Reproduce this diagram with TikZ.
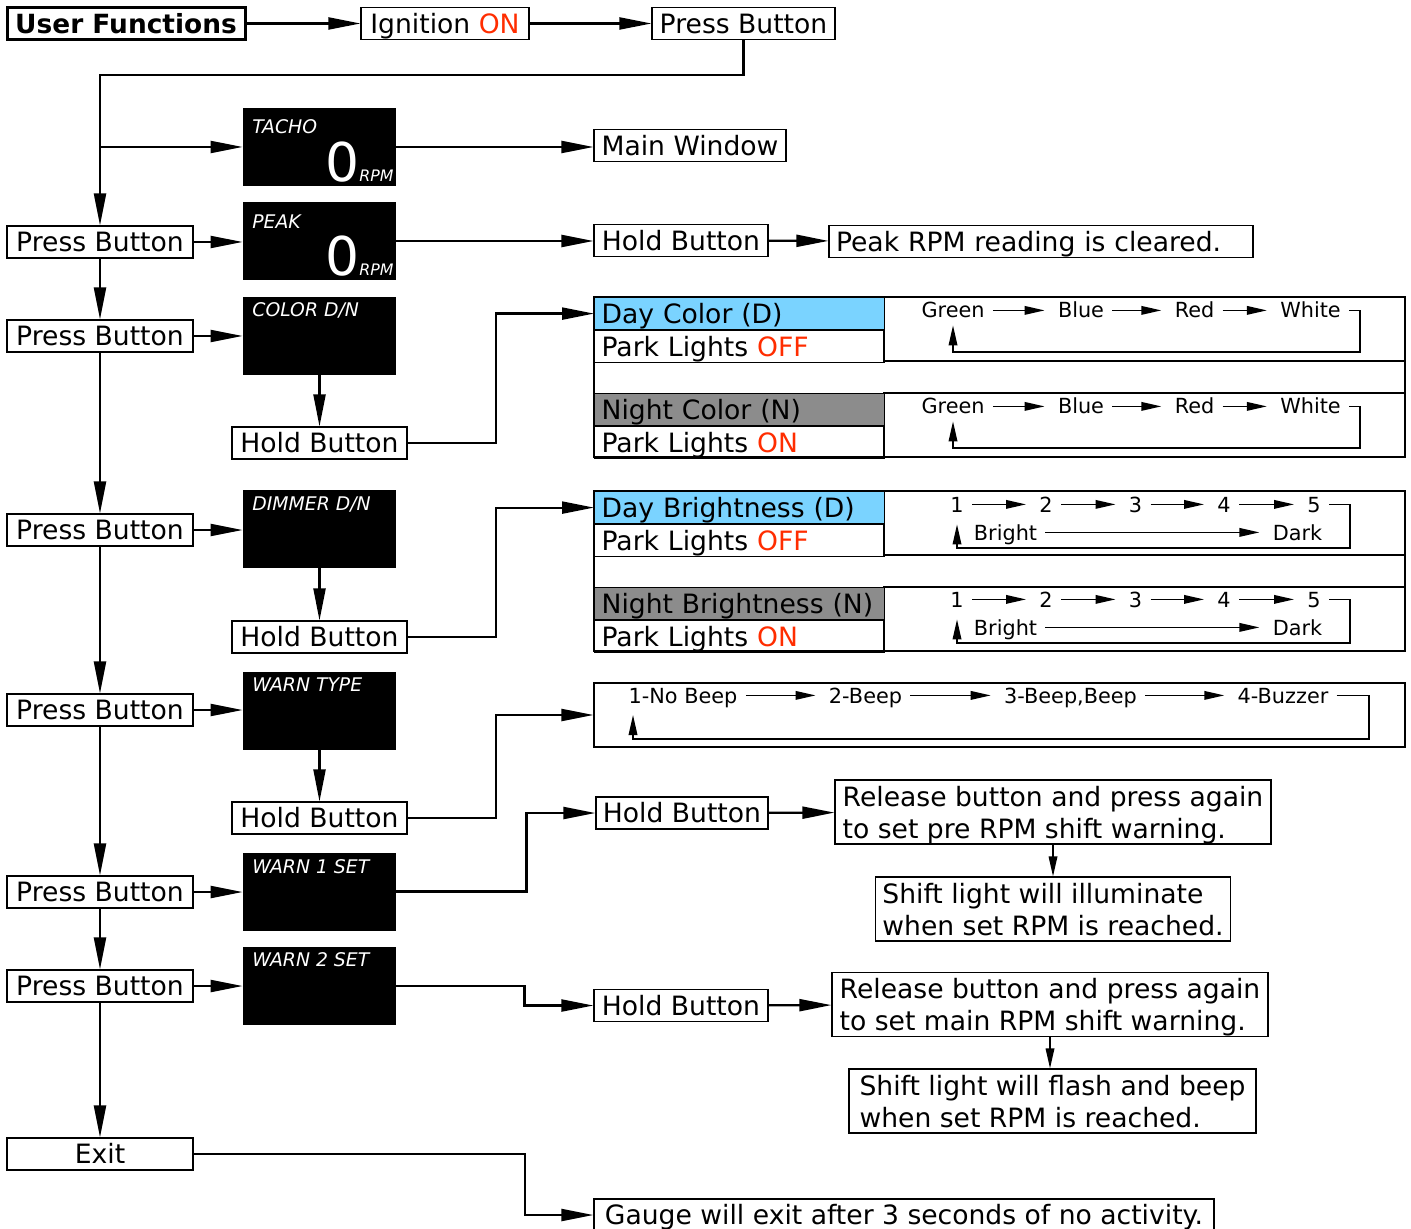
\documentclass[tikz,border=0pt]{standalone}
\usepackage{fontspec}
\setmainfont{DejaVu Sans}[ItalicFont={DejaVu Sans Oblique},BoldFont={DejaVu Sans Bold}]
\usetikzlibrary{arrows.meta,positioning}

\definecolor{daycyan}{RGB}{122,211,255}
\definecolor{nightgray}{RGB}{140,140,140}
\definecolor{onred}{RGB}{255,45,0}

\tikzset{
  box/.style={draw, line width=0.6pt, minimum height=16pt, inner xsep=3.5pt, inner ysep=0pt,
    font=\fontsize{13.3}{16}\selectfont, text height=9.7pt, text depth=0pt},
  twoline/.style={draw, line width=0.6pt, minimum height=32pt, inner xsep=3.5pt, inner ysep=0pt,
    font=\fontsize{13.3}{16}\selectfont, align=left, text depth=0pt},
  cell/.style={draw, line width=0.6pt, minimum height=16pt, inner xsep=3.5pt, inner ysep=0pt,
    text width=138pt, align=left, font=\fontsize{13.3}{16}\selectfont,
    text height=9.7pt, text depth=0pt, anchor=north west},
  lcd/.style={fill=black, minimum width=76.5pt, minimum height=39pt, inner sep=0pt},
  lcdlabel/.style={text=white, font=\fontsize{9.4}{11}\selectfont\itshape, inner sep=0pt, anchor=base west},
  lcdzero/.style={text=white, font=\fontsize{26.7}{30}\selectfont, inner sep=0pt, anchor=base east},
  lcdrpm/.style={text=white, font=\fontsize{7.9}{9}\selectfont\itshape, inner sep=0pt, anchor=base west},
  seqtxt/.style={font=\fontsize{10.4}{12}\selectfont, inner xsep=4pt, inner ysep=1pt,
    text height=7.6pt, text depth=0pt, anchor=base},
  flow/.style={-{Triangle[length=16pt,width=6pt]}, line width=1.1pt},
  seqarrow/.style={-{Triangle[length=10pt,width=4.3pt]}, line width=0.75pt, shorten >=2.5pt},
  frame/.style={line width=0.6pt}
}

\begin{document}
\begin{tikzpicture}[x=0.5pt,y=-0.5pt]
  \fill[white] (0,0) rectangle (1411,1229);
  \useasboundingbox (0,0) rectangle (1411,1229);

  % start of the menu
  \node[box, minimum width=119pt, line width=1.5pt, font=\fontsize{13.2}{15}\selectfont\bfseries] (uf) at (126,23.5) {User Functions};
  \node[box, minimum width=84pt] (ign) at (445,23.5) {Ignition \textcolor{onred}{ON}};
  \node[box, minimum width=91.5pt] (pb0) at (743.5,23.5) {Press Button};
  \draw[flow] (uf) -- (ign);
  \draw[flow] (ign) -- (pb0);

  % left column
  \node[box, minimum width=93pt] (pb1) at (100,242) {Press Button};
  \node[box, minimum width=93pt] (pb2) at (100,336) {Press Button};
  \node[box, minimum width=93pt] (pb3) at (100,530) {Press Button};
  \node[box, minimum width=93pt] (pb4) at (100,710) {Press Button};
  \node[box, minimum width=93pt] (pb5) at (100,892) {Press Button};
  \node[box, minimum width=93pt] (pb6) at (100,986) {Press Button};
  \node[box, minimum width=93pt] (exit) at (100,1154) {Exit};

  \coordinate (turn) at (100,75);
  \coordinate (split) at (100,147);
  \draw[flow] (pb0.south) |- (turn) -- (pb1.north);
  \draw[flow] (pb1) -- (pb2);
  \draw[flow] (pb2) -- (pb3);
  \draw[flow] (pb3) -- (pb4);
  \draw[flow] (pb4) -- (pb5);
  \draw[flow] (pb5) -- (pb6);
  \draw[flow] (pb6) -- (exit);

  % gauge screens
  \node[lcd] (tacho) at (319.5,147) {};
  \node[lcdlabel] (tacholbl) at (252,134) {TACHO};
  \node[lcdzero] (tachozero) at (360,182) {0};
  \node[lcdrpm] (tachorpm) at (359,182) {RPM};

  \node[lcd] (peak) at (319.5,241) {};
  \node[lcdlabel] (peaklbl) at (252,229) {PEAK};
  \node[lcdzero] (peakzero) at (360,276) {0};
  \node[lcdrpm] (peakrpm) at (359,276) {RPM};

  \node[lcd] (color) at (319.5,336) {};
  \node[lcdlabel] (colorlbl) at (252,317) {COLOR D/N};
  \node[lcd] (dimmer) at (319.5,529) {};
  \node[lcdlabel] (dimmerlbl) at (252,510) {DIMMER D/N};
  \node[lcd] (warntype) at (319.5,710.5) {};
  \node[lcdlabel] (warntypelbl) at (252,691) {WARN TYPE};
  \node[lcd] (warnone) at (319.5,891.5) {};
  \node[lcdlabel] (warnonelbl) at (252,873) {WARN 1 SET};
  \node[lcd] (warntwo) at (319.5,986) {};
  \node[lcdlabel] (warntwolbl) at (252,966) {WARN 2 SET};

  \draw[flow] (split) -- (tacho.west);
  \draw[flow] (pb1.east) -- (pb1.east -| peak.west);
  \draw[flow] (pb2.east) -- (pb2.east -| color.west);
  \draw[flow] (pb3.east) -- (pb3.east -| dimmer.west);
  \draw[flow] (pb4.east) -- (pb4.east -| warntype.west);
  \draw[flow] (pb5.east) -- (pb5.east -| warnone.west);
  \draw[flow] (pb6.east) -- (pb6.east -| warntwo.west);

  % tacho and peak
  \node[box, minimum width=96pt] (mainwin) at (690,145.5) {Main Window};
  \node[box, minimum width=87pt] (hpeak) at (681,240.5) {Hold Button};
  \node[box, text width=205pt] (peakclr) at (1041,241.5) {Peak RPM reading is cleared.};
  \draw[flow] (tacho.east) -- (tacho.east -| mainwin.west);
  \draw[flow] (peak.east) -- (peak.east -| hpeak.west);
  \draw[flow] (hpeak) -- (peakclr);

  % hold buttons under the screens
  \node[box, minimum width=87.5pt] (hcolor) at (319.5,443) {Hold Button};
  \node[box, minimum width=87.5pt] (hdim) at (319.5,637) {Hold Button};
  \node[box, minimum width=87.5pt] (hwarn) at (319.5,818) {Hold Button};
  \draw[flow] (color) -- (hcolor);
  \draw[flow] (dimmer) -- (hdim);
  \draw[flow] (warntype) -- (hwarn);

  % colour table
  \draw[frame] (594,297) rectangle (1405,457);
  \draw[frame] (884,297) rectangle (1405,361);
  \draw[frame] (884,393) rectangle (1405,457);
  \node[cell, fill=daycyan] (daycol) at (594,297) {Day Color (D)};
  \node[cell, below=0pt of daycol] (dayoff) {Park Lights \textcolor{onred}{OFF}};
  \node[cell, fill=nightgray] (nightcol) at (594,393) {Night Color (N)};
  \node[cell, below=0pt of nightcol] (nighton) {Park Lights \textcolor{onred}{ON}};
  \draw[flow] (hcolor.east) -- ++(88,0) |- (daycol.west);

  \node[seqtxt] (green1) at (953,318) {Green};
  \node[seqtxt] (blue1) at (1081,318) {Blue};
  \node[seqtxt] (red1) at (1194.5,318) {Red};
  \node[seqtxt] (white1) at (1310.5,318) {White};
  \draw[seqarrow] (green1) -- (blue1);
  \draw[seqarrow] (blue1) -- (red1);
  \draw[seqarrow] (red1) -- (white1);
  \draw[seqarrow] (white1.east) -| (1360,352) -| (green1.south);

  \node[seqtxt] (green2) at (953,414) {Green};
  \node[seqtxt] (blue2) at (1081,414) {Blue};
  \node[seqtxt] (red2) at (1194.5,414) {Red};
  \node[seqtxt] (white2) at (1310.5,414) {White};
  \draw[seqarrow] (green2) -- (blue2);
  \draw[seqarrow] (blue2) -- (red2);
  \draw[seqarrow] (red2) -- (white2);
  \draw[seqarrow] (white2.east) -| (1360,448) -| (green2.south);

  % brightness table
  \draw[frame] (594,491) rectangle (1405,651);
  \draw[frame] (884,491) rectangle (1405,555);
  \draw[frame] (884,587) rectangle (1405,651);
  \node[cell, fill=daycyan] (daybr) at (594,491) {Day Brightness (D)};
  \node[cell, below=0pt of daybr] (dayboff) {Park Lights \textcolor{onred}{OFF}};
  \node[cell, fill=nightgray] (nightbr) at (594,587) {Night Brightness (N)};
  \node[cell, below=0pt of nightbr] (nightbon) {Park Lights \textcolor{onred}{ON}};
  \draw[flow] (hdim.east) -- ++(88,0) |- (daybr.west);

  \node[seqtxt] (da1) at (957,512) {1};
  \node[seqtxt] (da2) at (1046,512) {2};
  \node[seqtxt] (da3) at (1135.5,512) {3};
  \node[seqtxt] (da4) at (1224,512) {4};
  \node[seqtxt] (da5) at (1314,512) {5};
  \node[seqtxt] (dabright) at (1005.5,540) {Bright};
  \node[seqtxt] (dadark) at (1297.5,540) {Dark};
  \draw[seqarrow] (da1) -- (da2);
  \draw[seqarrow] (da2) -- (da3);
  \draw[seqarrow] (da3) -- (da4);
  \draw[seqarrow] (da4) -- (da5);
  \draw[seqarrow] (dabright) -- (dadark);
  \draw[seqarrow, shorten >=5pt] (da5.east) -| (1350,548) -| (da1.south);

  \node[seqtxt] (ni1) at (957,607) {1};
  \node[seqtxt] (ni2) at (1046,607) {2};
  \node[seqtxt] (ni3) at (1135.5,607) {3};
  \node[seqtxt] (ni4) at (1224,607) {4};
  \node[seqtxt] (ni5) at (1314,607) {5};
  \node[seqtxt] (nibright) at (1005.5,635) {Bright};
  \node[seqtxt] (nidark) at (1297.5,635) {Dark};
  \draw[seqarrow] (ni1) -- (ni2);
  \draw[seqarrow] (ni2) -- (ni3);
  \draw[seqarrow] (ni3) -- (ni4);
  \draw[seqarrow] (ni4) -- (ni5);
  \draw[seqarrow] (nibright) -- (nidark);
  \draw[seqarrow, shorten >=5pt] (ni5.east) -| (1350,643) -| (ni1.south);

  % warning types
  \node[draw, line width=0.6pt, minimum width=405.5pt, minimum height=32pt] (beepbox) at (999.5,715) {};
  \draw[flow] (hwarn.east) -- ++(88,0) |- (beepbox.west);
  \node[seqtxt] (beep1) at (683,703) {1-No Beep};
  \node[seqtxt] (beep2) at (865.5,703) {2-Beep};
  \node[seqtxt] (beep3) at (1070.5,703) {3-Beep,Beep};
  \node[seqtxt] (beep4) at (1283,703) {4-Buzzer};
  \coordinate (beepup) at (633,710);
  \draw[seqarrow] (beep1) -- (beep2);
  \draw[seqarrow] (beep2) -- (beep3);
  \draw[seqarrow] (beep3) -- (beep4);
  \draw[seqarrow] (beep4.east) -| (1369,739) -| (beepup);

  % shift warnings
  \node[box, minimum width=86pt] (hone) at (682,813) {Hold Button};
  \node[twoline, minimum width=218pt] (relone) at (1053,812) {Release button and press again\\to set pre RPM shift warning.};
  \node[twoline, minimum width=176pt] (shiftone) at (1053,909) {Shift light will illuminate\\when set RPM is reached.};
  \draw[flow] (warnone.east) -- ++(130,0) |- (hone.west);
  \draw[flow] (hone) -- (relone);
  \draw[seqarrow, shorten >=0pt] (relone) -- (shiftone);

  \node[box, minimum width=87pt] (htwo) at (681,1005.5) {Hold Button};
  \node[twoline, minimum width=218pt] (reltwo) at (1050,1004.5) {Release button and press again\\to set main RPM shift warning.};
  \node[twoline, minimum width=203.5pt] (shifttwo) at (1052.5,1101) {Shift light will flash and beep\\when set RPM is reached.};
  \draw[flow] (warntwo.east) -- ++(128,0) |- (htwo.west);
  \draw[flow] (htwo) -- (reltwo);
  \draw[seqarrow, shorten >=0pt] (reltwo.south) -- (reltwo.south |- shifttwo.north);

  % exit
  \node[box, minimum width=310pt] (gauge) at (904,1215) {Gauge will exit after 3 seconds of no activity.};
  \draw[flow] (exit.east) -- ++(331,0) |- (gauge.west);
\end{tikzpicture}
\end{document}
